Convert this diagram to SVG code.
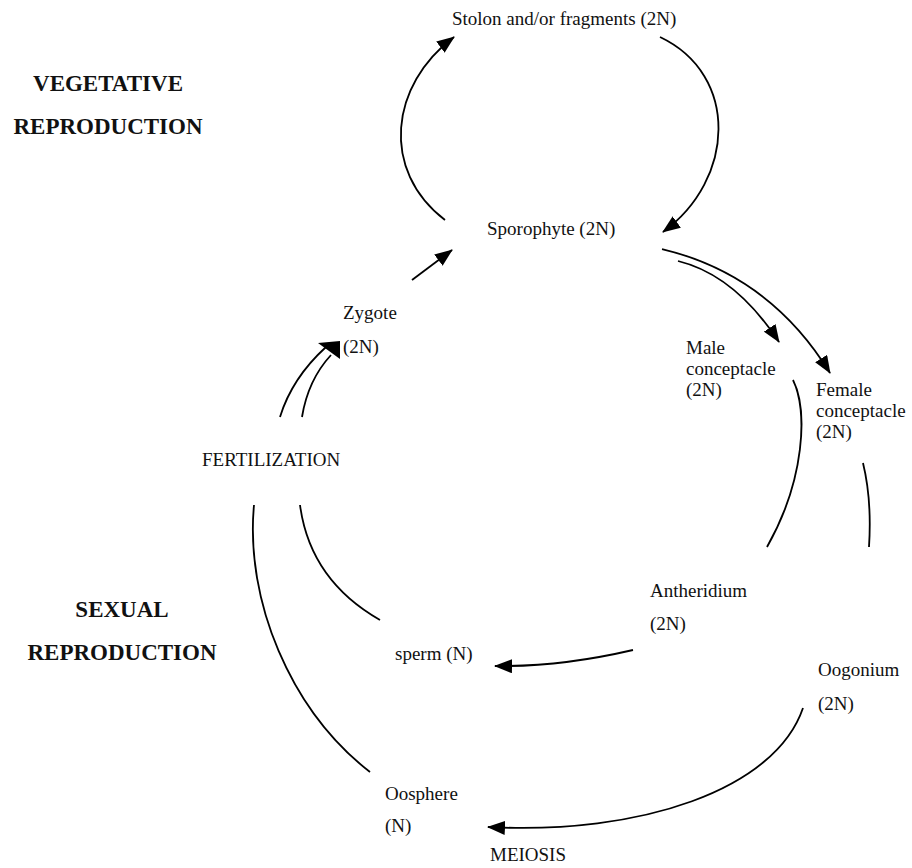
<svg xmlns="http://www.w3.org/2000/svg" width="912" height="868" viewBox="0 0 912 868">
<defs>
<style>
text{font-family:"Liberation Serif","Times New Roman",serif;font-size:19px;fill:#111}
.h{font-weight:bold;font-size:23px}
.c path{fill:none;stroke:#000;stroke-width:1.8}
</style>
<marker id="ah" viewBox="0 0 18 14" refX="17" refY="7" markerWidth="18" markerHeight="14" markerUnits="userSpaceOnUse" orient="auto">
<path d="M0,0 L18,7 L0,14 z" fill="#000"/>
</marker>
</defs>
<rect width="912" height="868" fill="#fff"/>

<g id="heading-vegetative">
<text class="h" x="108" y="91" text-anchor="middle">VEGETATIVE</text>
<text class="h" x="108" y="134" text-anchor="middle">REPRODUCTION</text>
</g>
<g id="heading-sexual">
<text class="h" x="122" y="617" text-anchor="middle">SEXUAL</text>
<text class="h" x="122" y="660" text-anchor="middle">REPRODUCTION</text>
</g>

<g id="stolon"><text x="452" y="25">Stolon and/or fragments (2N)</text></g>
<g id="sporophyte"><text x="487" y="235">Sporophyte (2N)</text></g>
<g id="zygote"><text x="343" y="319">Zygote</text><text x="343" y="353">(2N)</text></g>
<g id="male-conceptacle"><text x="686" y="354">Male</text><text x="686" y="375">conceptacle</text><text x="686" y="396">(2N)</text></g>
<g id="female-conceptacle"><text x="816" y="396">Female</text><text x="816" y="417">conceptacle</text><text x="816" y="438">(2N)</text></g>
<g id="fertilization"><text x="202" y="466">FERTILIZATION</text></g>
<g id="antheridium"><text x="650" y="597">Antheridium</text><text x="650" y="630">(2N)</text></g>
<g id="sperm"><text x="395" y="660">sperm (N)</text></g>
<g id="oogonium"><text x="818" y="676">Oogonium</text><text x="818" y="710">(2N)</text></g>
<g id="oosphere"><text x="385" y="800">Oosphere</text><text x="385" y="832">(N)</text></g>
<g id="meiosis"><text x="490" y="861">MEIOSIS</text></g>

<g id="connectors" class="c">
<path d="M445,220 C380,170 390,85 454,37" marker-end="url(#ah)"/>
<path d="M660,37 C740,75 735,180 663,232" marker-end="url(#ah)"/>
<path d="M412,280 L452,250" marker-end="url(#ah)"/>
<path d="M280,417 Q292,378 326,347"/>
<path d="M302,417 Q308,380 331,355"/>
<polygon points="318,343 340,341 340,359" fill="#000" stroke="none"/>
<path d="M662,249 Q770,275 830,373" marker-end="url(#ah)"/>
<path d="M678,261 Q735,275 779,342" marker-end="url(#ah)"/>
<path d="M793,380 C808,410 805,480 767,547"/>
<path d="M863,463 Q872,500 869,547"/>
<path d="M633,650 Q560,667 495,666" marker-end="url(#ah)"/>
<path d="M803,708 C775,790 640,835 488,827" marker-end="url(#ah)"/>
<path d="M300,505 Q310,580 380,620"/>
<path d="M254,505 C245,600 290,710 370,772"/>
</g>
</svg>
